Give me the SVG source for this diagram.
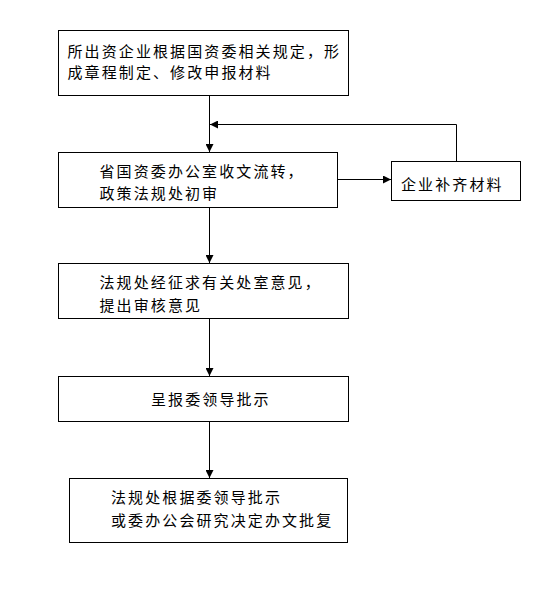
<svg xmlns="http://www.w3.org/2000/svg" width="542" height="612" viewBox="0 0 542 612">
<style>
.box{fill:#fff;stroke:#000;stroke-width:1}
.t{font-family:"Noto Sans CJK SC","Liberation Sans",sans-serif;font-size:15px;letter-spacing:2.1px;fill:#000}
.c{fill:none;stroke:#000;stroke-width:1}
</style>
<defs>
<marker id="ah" markerWidth="8" markerHeight="8" refX="8" refY="4" orient="auto" markerUnits="userSpaceOnUse">
<path d="M0,0 L8,4 L0,8 Z" fill="#000"/>
</marker>
</defs>
<rect width="542" height="612" fill="#fff"/>
<g id="connectors">
<line class="c" x1="209.5" y1="96" x2="209.5" y2="152" marker-end="url(#ah)"/>
<line class="c" x1="337" y1="179.5" x2="391" y2="179.5" marker-end="url(#ah)"/>
<polyline class="c" points="456.5,161 456.5,124.5 210,124.5" marker-end="url(#ah)"/>
<line class="c" x1="209.5" y1="207" x2="209.5" y2="263" marker-end="url(#ah)"/>
<line class="c" x1="209.5" y1="319" x2="209.5" y2="376" marker-end="url(#ah)"/>
<line class="c" x1="209.5" y1="422" x2="209.5" y2="478" marker-end="url(#ah)"/>
</g>
<g id="n1">
<rect class="box" x="58.5" y="30.5" width="290" height="65"/>
<text class="t" x="67.5" y="56.5">所出资企业根据国资委相关规定，形</text>
<text class="t" x="67.5" y="77.5">成章程制定、修改申报材料</text>
</g>
<g id="n2">
<rect class="box" x="58.5" y="152.5" width="279" height="55"/>
<text class="t" x="99.5" y="176.5">省国资委办公室收文流转，</text>
<text class="t" x="99.5" y="198.5">政策法规处初审</text>
</g>
<g id="n3">
<rect class="box" x="391.5" y="161.5" width="129" height="39"/>
<text class="t" x="401" y="189.5">企业补齐材料</text>
</g>
<g id="n4">
<rect class="box" x="58.5" y="263.5" width="290" height="55"/>
<text class="t" x="99.5" y="288">法规处经征求有关处室意见，</text>
<text class="t" x="99.5" y="310.5">提出审核意见</text>
</g>
<g id="n5">
<rect class="box" x="58.5" y="376.5" width="290" height="45"/>
<text class="t" x="151" y="404.5">呈报委领导批示</text>
</g>
<g id="n6">
<rect class="box" x="69.5" y="478.5" width="278" height="64"/>
<text class="t" x="111" y="503">法规处根据委领导批示</text>
<text class="t" x="111" y="525.5">或委办公会研究决定办文批复</text>
</g>
</svg>
